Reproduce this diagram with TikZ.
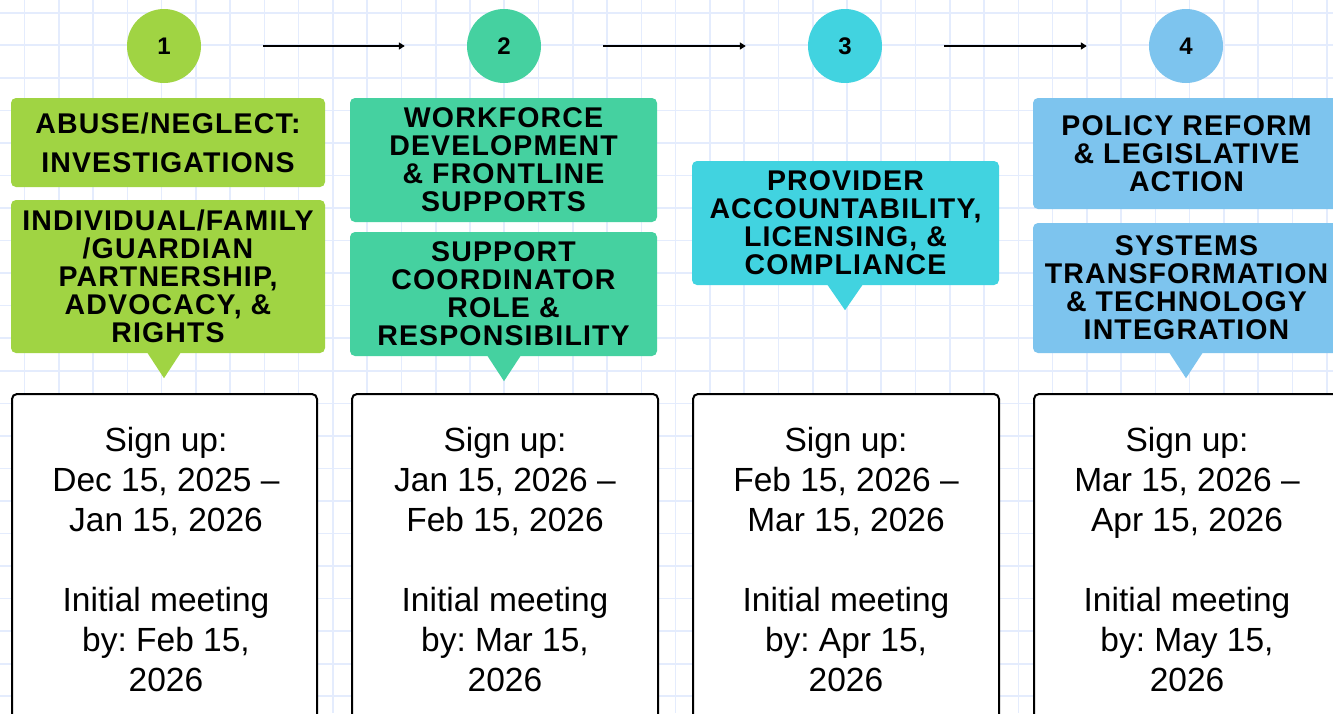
\documentclass[tikz,border=0pt]{standalone}
\usepackage{fontspec}
\setmainfont{Liberation Sans}
\newfontfamily\headfont[LetterSpace=4]{Liberation Sans}
\usetikzlibrary{arrows.meta}
\definecolor{cA}{HTML}{A0D443}
\definecolor{cB}{HTML}{45D1A0}
\definecolor{cC}{HTML}{41D3E0}
\definecolor{cD}{HTML}{7DC4EE}
\definecolor{gridc}{HTML}{E4ECFD}
\frenchspacing
\begin{document}
\begin{tikzpicture}[x=1pt,y=-1pt,
  head/.style={rounded corners=5pt, minimum width=307pt, inner sep=0pt, align=center,
    font=\headfont\bfseries\fontsize{28.5}{28}\selectfont, text=black},
  circ/.style={circle, minimum size=74pt, inner sep=0pt, font=\bfseries\fontsize{24}{24}\selectfont},
  datebox/.style={draw=black, line width=2pt, rounded corners=5pt, fill=white,
    minimum width=305pt, minimum height=345pt, anchor=north, inner sep=0pt},
  datetext/.style={align=center, font=\fontsize{33.5}{40}\selectfont, anchor=north, inner sep=0pt},
  conn/.style={-{Triangle[length=6pt,width=7pt]}, line width=1.6pt, black}]
\useasboundingbox (0,0) rectangle (1333,713);
\clip (0,0) rectangle (1333,713);
\fill[white] (0,0) rectangle (1333,713);
% grid
\foreach \i in {0,...,38} \draw[gridc, line width=1.6pt] ({24.5+34.27*\i},0) -- ({24.5+34.27*\i},713);
\foreach \j in {0,...,21} \draw[gridc, line width=1.6pt] (0,{12.7+32.55*\j}) -- (1333,{12.7+32.55*\j});

% circles
\node[circ, fill=cA] (c1) at (164,46) {1};
\node[circ, fill=cB] (c2) at (504,46) {2};
\node[circ, fill=cC] (c3) at (845,46) {3};
\node[circ, fill=cD] (c4) at (1186,46) {4};
\draw[conn] ([xshift=62pt]c1.east) -- ([xshift=-62pt]c2.west);
\draw[conn] ([xshift=62pt]c2.east) -- ([xshift=-62pt]c3.west);
\draw[conn] ([xshift=62pt]c3.east) -- ([xshift=-62pt]c4.west);

% column 1
\node[head, fill=cA, minimum width=314pt, minimum height=89pt, font=\headfont\bfseries\fontsize{28.5}{39}\selectfont] (h1a) at (168,142.5) {ABUSE/NEGLECT:\\INVESTIGATIONS};
\node[head, fill=cA, minimum width=314pt, minimum height=153pt] (h1b) at (168,276.5) {INDIVIDUAL/FAMILY\\/GUARDIAN\\PARTNERSHIP,\\ADVOCACY, \&\\RIGHTS};
\fill[cA] ([xshift=-17pt,yshift=1pt]c1 |- h1b.south) -- ++(17,26) -- ++(17,-26) -- cycle;

% column 2
\node[head, fill=cB, minimum height=124pt] (h2a) at (503.5,160) {WORKFORCE\\DEVELOPMENT\\\& FRONTLINE\\SUPPORTS};
\node[head, fill=cB, minimum height=124pt] (h2b) at (503.5,294) {SUPPORT\\COORDINATOR\\ROLE \&\\RESPONSIBILITY};
\fill[cB] ([xshift=-17pt,yshift=1pt]c2 |- h2b.south) -- ++(17,26) -- ++(17,-26) -- cycle;

% column 3
\node[head, fill=cC, minimum height=124pt] (h3a) at (845.5,223) {PROVIDER\\ACCOUNTABILITY,\\LICENSING, \&\\COMPLIANCE};
\fill[cC] ([xshift=-18pt,yshift=1pt]c3 |- h3a.south) -- ++(18,26) -- ++(18,-26) -- cycle;

% column 4
\node[head, fill=cD, minimum height=111pt] (h4a) at (1186.5,153.5) {POLICY REFORM\\\& LEGISLATIVE\\ACTION};
\node[head, fill=cD, minimum height=130pt] (h4b) at (1186.5,288) {SYSTEMS\\TRANSFORMATION\\\& TECHNOLOGY\\INTEGRATION};
\fill[cD] ([xshift=-17pt,yshift=1pt]c4 |- h4b.south) -- ++(17,26) -- ++(17,-26) -- cycle;

% date boxes
\node[datebox] (d1) at (164.5,393) {};
\node[datebox, minimum width=306pt] (d2) at (505,393) {};
\node[datebox, minimum width=306pt] (d3) at (846,393) {};
\node[datebox, minimum width=306pt] (d4) at (1187,393) {};
\node[datetext] (t1) at (166,427) {Sign up:\\Dec 15, 2025 --\\Jan 15, 2026\\[40pt]Initial meeting\\by: Feb 15,\\2026};
\node[datetext] (t2) at (505,427) {Sign up:\\Jan 15, 2026 --\\Feb 15, 2026\\[40pt]Initial meeting\\by: Mar 15,\\2026};
\node[datetext] (t3) at (846,427) {Sign up:\\Feb 15, 2026 --\\Mar 15, 2026\\[40pt]Initial meeting\\by: Apr 15,\\2026};
\node[datetext] (t4) at (1187,427) {Sign up:\\Mar 15, 2026 --\\Apr 15, 2026\\[40pt]Initial meeting\\by: May 15,\\2026};
\end{tikzpicture}
\end{document}
